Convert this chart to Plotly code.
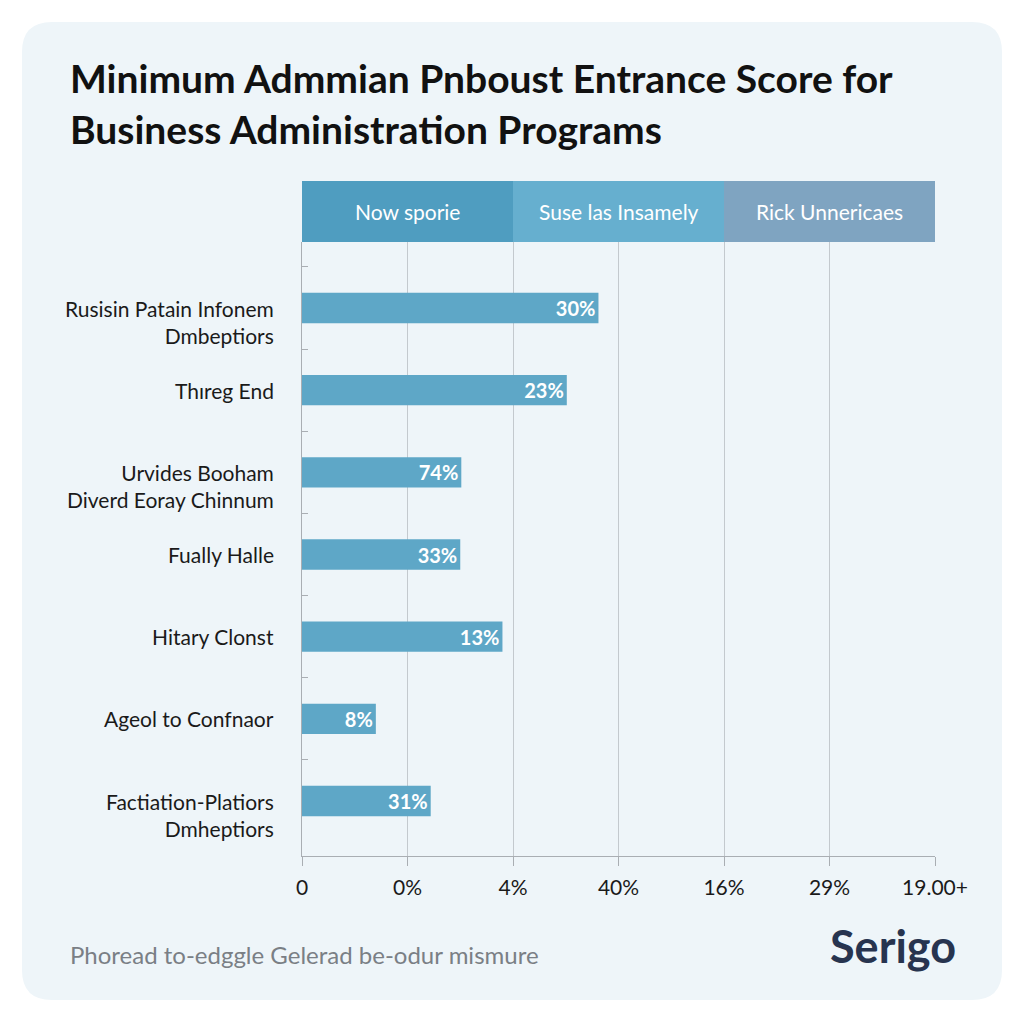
import plotly.graph_objects as go

# ---- data ----
categories = [
    "Rusisin Patain Infonem<br>Dmbeptiors",
    "Thıreg End",
    "Urvides Booham<br>Diverd Eoray Chinnum",
    "Fually Halle",
    "Hitary Clonst",
    "Ageol to Confnaor",
    "Factiation-Platiors<br>Dmheptiors",
]
bar_values = [2.81, 2.51, 1.51, 1.50, 1.90, 0.70, 1.22]
bar_labels = ["30%", "23%", "74%", "33%", "13%", "8%", "31%"]
tick_vals = [0, 1, 2, 3, 4, 5, 6]
tick_text = ["0", "0%", "4%", "40%", "16%", "29%", "19.00+"]
header_labels = ["Now sporie", "Suse las Insamely", "Rick Unnericaes"]
header_spans = [(0, 2), (2, 4), (4, 6)]

title_text = "Minimum Admmian Pnboust Entrance Score for<br>Business Administration Programs"
footer_text = "Phoread to-edggle Gelerad be-odur mismure"
logo_text = "Serigo"

# ---- layout geometry (page pixels; page has an 8px body margin) ----
OFF = 8
W, H = 1024 - OFF, 1024 - OFF
L, R, T, B = 302, 935, 242, 856
PW, PH = R - L, B - T


def px(x):
    return (x - L) / PW


def py(y):
    return (B - y) / PH


FONT = "Lato, 'Open Sans', sans-serif"
BAR = "#5ea7c7"

fig = go.Figure()
fig.add_trace(go.Bar(
    y=categories, x=bar_values, orientation="h",
    marker=dict(color=BAR, line=dict(width=0)),
    text=bar_labels, textposition="inside", insidetextanchor="end",
    textfont=dict(family=FONT, size=20, color="white", weight="bold"),
    cliponaxis=False, hoverinfo="skip",
))

# card background
x0, y0, x1, y1, r = 22, 22, 1002, 1000, 30
path = (
    f"M {px(x0 + r)} {py(y0)} L {px(x1 - r)} {py(y0)} "
    f"Q {px(x1)} {py(y0)} {px(x1)} {py(y0 + r)} L {px(x1)} {py(y1 - r)} "
    f"Q {px(x1)} {py(y1)} {px(x1 - r)} {py(y1)} L {px(x0 + r)} {py(y1)} "
    f"Q {px(x0)} {py(y1)} {px(x0)} {py(y1 - r)} L {px(x0)} {py(y0 + r)} "
    f"Q {px(x0)} {py(y0)} {px(x0 + r)} {py(y0)} Z"
)
shapes = [dict(type="path", path=path, xref="paper", yref="paper",
               fillcolor="#eef5f9", line=dict(width=0), layer="below")]

# header band
header_colors = ["#4f9dc0", "#66afcf", "#7fa4c1"]
for (a, b), c in zip(header_spans, header_colors):
    shapes.append(dict(type="rect", xref="x", yref="paper", x0=a, x1=b,
                       y0=1, y1=py(181), fillcolor=c, line=dict(width=0), layer="above"))

annotations = []
for (a, b), t in zip(header_spans, header_labels):
    annotations.append(dict(x=(a + b) / 2, y=py(211.5), xref="x", yref="paper", text=t,
                            showarrow=False, font=dict(family=FONT, size=21, color="white"),
                            xanchor="center", yanchor="middle"))

# category labels (first line aligned with the bar)
for c in categories:
    n = c.count("<br>") + 1
    annotations.append(dict(x=0, y=c, xref="x", yref="y", text=c, showarrow=False,
                            xanchor="right", yanchor="middle", align="right",
                            xshift=-26, yshift=-(n - 1) * 14,
                            font=dict(family=FONT, size=21, color="#1a1a1a")))

annotations.append(dict(x=px(68), y=py(954), xref="paper", yref="paper", text=footer_text,
                        showarrow=False, xanchor="left", yanchor="middle",
                        font=dict(family=FONT, size=24, color="#7a7f85")))
annotations.append(dict(x=px(958), y=py(946), xref="paper", yref="paper", text=logo_text,
                        showarrow=False, xanchor="right", yanchor="middle",
                        font=dict(family=FONT, size=45, color="#27344f", weight="bold")))

fig.update_layout(
    width=W, height=H,
    margin=dict(l=L - OFF, r=W - (R - OFF), t=T - OFF, b=H - (B - OFF), pad=0),
    paper_bgcolor="white", plot_bgcolor="rgba(0,0,0,0)",
    showlegend=False, bargap=0.63,
    shapes=shapes, annotations=annotations,
    title=dict(text=title_text, x=(70 - OFF) / W, xanchor="left",
               y=1 - (93 - OFF) / H, yanchor="middle",
               xref="container", yref="container",
               font=dict(family=FONT, size=39, color="#111111", weight="bold")),
    xaxis=dict(range=[0, 6], tickvals=tick_vals, ticktext=tick_text,
               showgrid=True, gridcolor="#c3c9ce", gridwidth=1,
               zeroline=False, showline=True, linecolor="#a9aeb3", linewidth=1,
               ticks="outside", ticklen=9, tickcolor="#a9aeb3",
               tickfont=dict(family=FONT, size=21, color="#1a1a1a"),
               ticklabelstandoff=4, fixedrange=True),
    yaxis=dict(type="category", categoryorder="array", categoryarray=categories,
               range=[6 + (B - 801) / 82.17, -(308 - T) / 82.17],
               showticklabels=False, showgrid=False, zeroline=False,
               showline=True, linecolor="#a9aeb3", linewidth=1,
               ticks="inside", tickson="boundaries", ticklen=6,
               tickcolor="#a9aeb3", fixedrange=True),
)

fig.write_html("out.html")
